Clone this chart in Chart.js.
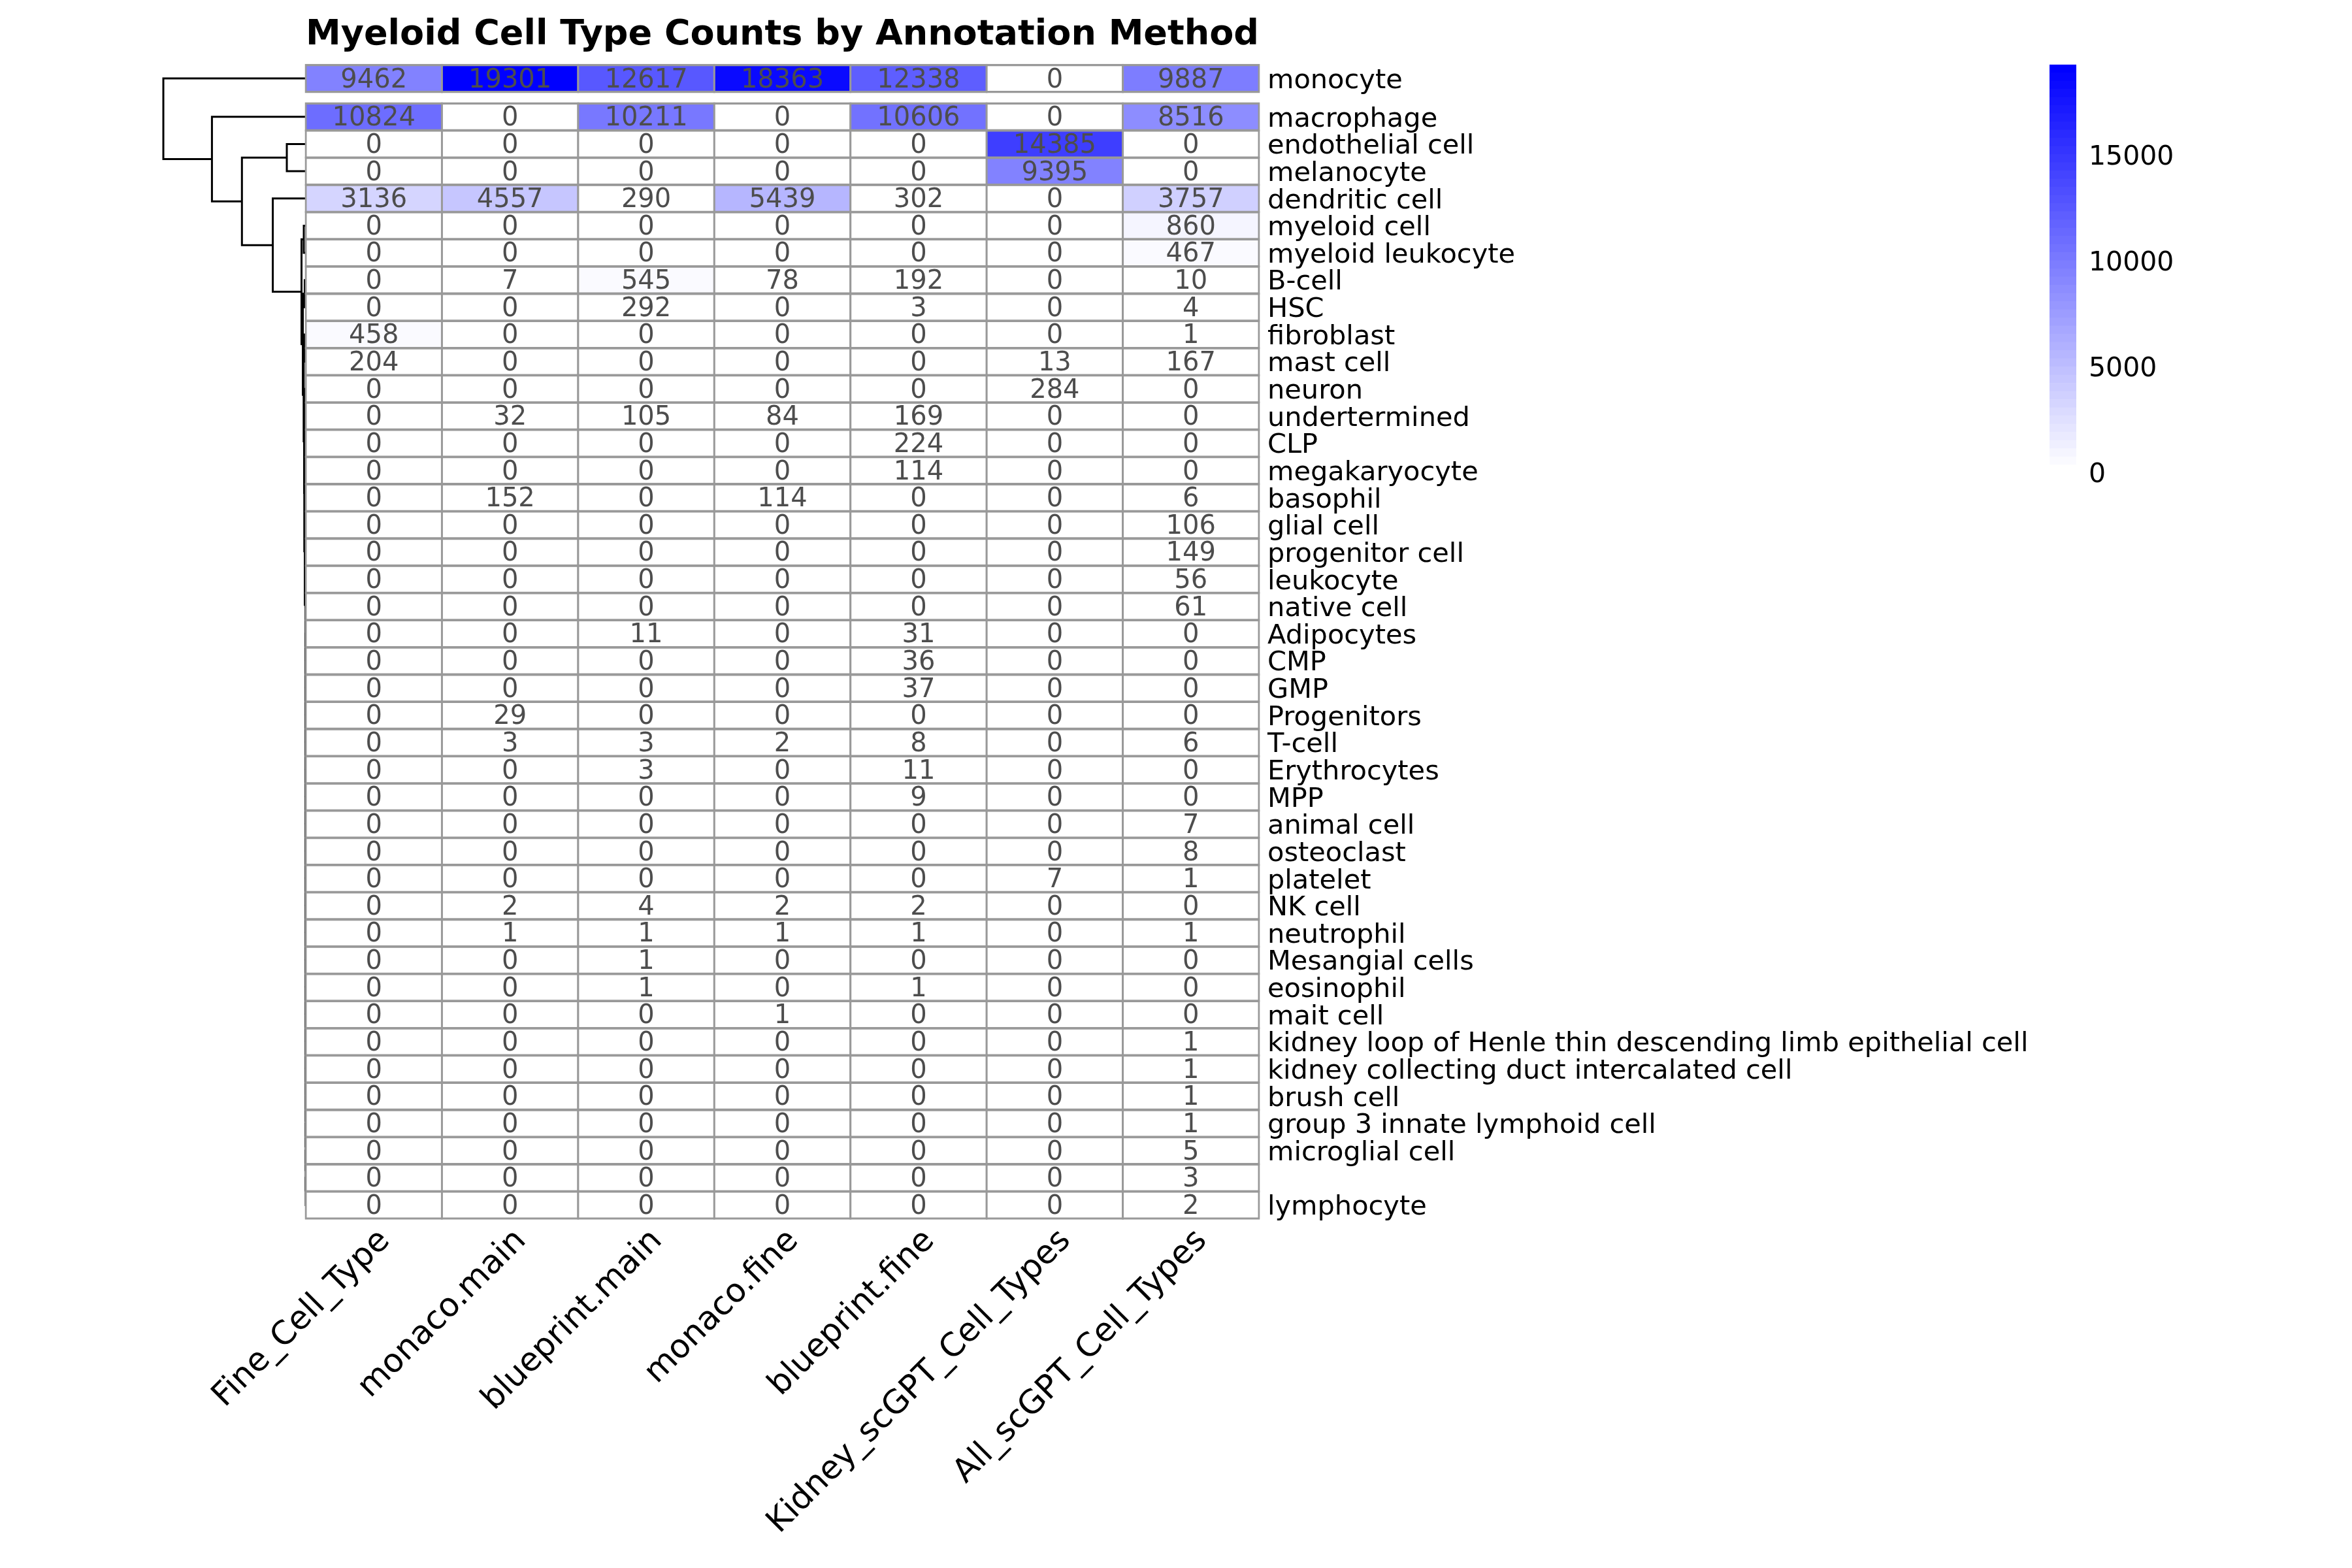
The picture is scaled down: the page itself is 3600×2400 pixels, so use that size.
<!DOCTYPE html>
<html>
<head>
<meta charset="utf-8">
<title>Myeloid Cell Type Counts by Annotation Method</title>
<script src="https://cdn.jsdelivr.net/npm/chart.js@4"></script>
<style>
  body { margin: 0; background: #fff; }
  canvas { position: absolute; left: 0; top: 0; }
</style>
</head>
<body>
<canvas id="tree" width="3600" height="2400"></canvas>
<canvas id="heat" width="3600" height="2400"></canvas>
<canvas id="legendBar" width="3600" height="2400"></canvas>
<script>
const methods = ['Fine_Cell_Type', 'monaco.main', 'blueprint.main', 'monaco.fine', 'blueprint.fine', 'Kidney_scGPT_Cell_Types', 'All_scGPT_Cell_Types'];

const rowLabels = ['monocyte', 'macrophage', 'endothelial cell', 'melanocyte', 'dendritic cell', 'myeloid cell', 'myeloid leukocyte',
  'B-cell', 'HSC', 'fibroblast', 'mast cell', 'neuron', 'undertermined', 'CLP', 'megakaryocyte', 'basophil', 'glial cell',
  'progenitor cell', 'leukocyte', 'native cell', 'Adipocytes', 'CMP', 'GMP', 'Progenitors', 'T-cell', 'Erythrocytes', 'MPP',
  'animal cell', 'osteoclast', 'platelet', 'NK cell', 'neutrophil', 'Mesangial cells', 'eosinophil', 'mait cell',
  'kidney loop of Henle thin descending limb epithelial cell', 'kidney collecting duct intercalated cell', 'brush cell',
  'group 3 innate lymphoid cell', 'microglial cell', '', 'lymphocyte'];

// counts per annotation method, same order as rowLabels
const fineCellType = [9462, 10824, 0, 0, 3136, 0, 0, 0, 0, 458, 204, 0, 0, 0, 0, 0, 0, 0, 0, 0, 0, 0, 0, 0, 0, 0, 0, 0, 0, 0, 0, 0, 0, 0, 0, 0, 0, 0, 0, 0, 0, 0];
const monacoMain = [19301, 0, 0, 0, 4557, 0, 0, 7, 0, 0, 0, 0, 32, 0, 0, 152, 0, 0, 0, 0, 0, 0, 0, 29, 3, 0, 0, 0, 0, 0, 2, 1, 0, 0, 0, 0, 0, 0, 0, 0, 0, 0];
const blueprintMain = [12617, 10211, 0, 0, 290, 0, 0, 545, 292, 0, 0, 0, 105, 0, 0, 0, 0, 0, 0, 0, 11, 0, 0, 0, 3, 3, 0, 0, 0, 0, 4, 1, 1, 1, 0, 0, 0, 0, 0, 0, 0, 0];
const monacoFine = [18363, 0, 0, 0, 5439, 0, 0, 78, 0, 0, 0, 0, 84, 0, 0, 114, 0, 0, 0, 0, 0, 0, 0, 0, 2, 0, 0, 0, 0, 0, 2, 1, 0, 0, 1, 0, 0, 0, 0, 0, 0, 0];
const blueprintFine = [12338, 10606, 0, 0, 302, 0, 0, 192, 3, 0, 0, 0, 169, 224, 114, 0, 0, 0, 0, 0, 31, 36, 37, 0, 8, 11, 9, 0, 0, 0, 2, 1, 0, 1, 0, 0, 0, 0, 0, 0, 0, 0];
const kidneyScgpt = [0, 0, 14385, 9395, 0, 0, 0, 0, 0, 0, 13, 284, 0, 0, 0, 0, 0, 0, 0, 0, 0, 0, 0, 0, 0, 0, 0, 0, 0, 7, 0, 0, 0, 0, 0, 0, 0, 0, 0, 0, 0, 0];
const allScgpt = [9887, 8516, 0, 0, 3757, 860, 467, 10, 4, 1, 167, 0, 0, 0, 0, 6, 106, 149, 56, 61, 0, 0, 0, 0, 6, 0, 0, 7, 8, 1, 0, 1, 0, 0, 0, 1, 1, 1, 1, 5, 3, 2];
const columns = [fineCellType, monacoMain, blueprintMain, monacoFine, blueprintFine, kidneyScgpt, allScgpt];

// dendrogram, hclust style: negative = row number, positive = earlier merge number
const mergeLeft = [-3, -6, -8, -10, -14, -13, -19, -18, -17, -41, -40, -39, -38, -37, -36, -35, -34, -33, -32, -31, -30, -29, -28, -27, -26, -25, -24, -23, -22, -21, 9, -16, 6, -12, 4, 3, 2, -5, 1, -2, -1];
const mergeRight = [-4, -7, -9, -11, -15, 5, -20, 7, 8, -42, 10, 11, 12, 13, 14, 15, 16, 17, 18, 19, 20, 21, 22, 23, 24, 25, 26, 27, 28, 29, 30, 31, 32, 33, 34, 35, 36, 37, 38, 39, 40];
const mergeHeight = [29, 3, 1.6, 2.5, 1, 1.5, 0.1, 0.2, 0.3, 0.02, 0.03, 0.04, 0.05, 0.06, 0.07, 0.08, 0.09, 0.1, 0.11, 0.12, 0.13, 0.14, 0.15, 0.16, 0.17, 0.18, 0.2, 0.22, 0.24, 0.26, 0.4, 1.5, 2.2, 2.5, 3.2, 4.5, 6.5, 50.5, 97.7, 143.6, 218];

const legendTicks = [0, 5000, 10000, 15000];
const maxCount = 19301;
const colourSteps = 50;

const FONT = "'DejaVu Sans'";
const rowGap = 0.41; // space left under the first row
const yMin = -1 - rowGap;
const yMax = rowLabels.length - 1;

function rowTop(i) { return i === 0 ? yMin : i - 1; }
function rowMiddle(i) { return rowTop(i) + 0.5; }

function stepColour(i) {
  const c = Math.round(255 * (1 - i / (colourSteps - 1)));
  return `rgb(${c},${c},255)`;
}
function countColour(v) {
  return stepColour(Math.min(colourSteps - 1, Math.floor(v / (maxCount / colourSteps))));
}

const commonOptions = { responsive: false, animation: false, devicePixelRatio: 1, plugins: { legend: { display: false }, tooltip: { enabled: false } } };

// numbers inside the cells
const cellText = {
  id: 'cellText',
  afterDatasetsDraw(chart) {
    const ctx = chart.ctx;
    ctx.save();
    ctx.font = '40px ' + FONT;
    ctx.fillStyle = '#4d4d4d';
    ctx.textAlign = 'center';
    ctx.textBaseline = 'middle';
    chart.data.datasets.forEach((ds, r) => {
      chart.getDatasetMeta(r).data.forEach((bar, c) => {
        const p = bar.getCenterPoint();
        ctx.fillText(String(columns[c][r]), p.x, p.y + 3);
      });
    });
    ctx.restore();
  }
};

new Chart(document.getElementById('heat'), {
  type: 'bar',
  plugins: [cellText],
  data: {
    labels: methods,
    datasets: rowLabels.map((name, r) => ({
      label: name || 'row ' + r,
      data: columns.map(() => [rowTop(r), rowTop(r) + 1]),
      backgroundColor: columns.map(col => countColour(col[r])),
      borderColor: '#999999',
      borderWidth: { top: 3.4, bottom: 3.4, left: 3, right: 3 },
      inflateAmount: 1.5,
      borderSkipped: false,
      clip: 6,
      categoryPercentage: 1,
      barPercentage: 1,
      grouped: false
    }))
  },
  options: {
    ...commonOptions,
    layout: { padding: { left: 468 } },
    plugins: {
      ...commonOptions.plugins,
      title: {
        display: true,
        text: 'Myeloid Cell Type Counts by Annotation Method',
        align: 'start',
        color: '#000',
        font: { family: FONT, size: 54, weight: 'bold' },
        padding: { top: 22, bottom: 12.5 }
      }
    },
    scales: {
      x: {
        grid: { display: false, drawTicks: false },
        border: { display: false },
        afterFit(s) { s.height = 534.7; },
        ticks: { color: '#000', font: { family: FONT, size: 50 }, minRotation: 45, maxRotation: 45, autoSkip: false, padding: 5, labelOffset: 17 }
      },
      y: {
        position: 'right',
        reverse: true,
        min: yMin,
        max: yMax,
        grid: { display: false, drawTicks: false },
        border: { display: false },
        afterFit(s) { s.width = 1673; },
        afterBuildTicks(s) { s.ticks = rowLabels.map((_, i) => ({ value: rowMiddle(i) })); },
        ticks: { color: '#000', font: { family: FONT, size: 41.5 }, autoSkip: false, padding: 13, labelOffset: 4, callback: (v, i) => rowLabels[i] }
      }
    }
  }
});

// node positions of the dendrogram come from the merge table
const nodeY = [];
function childPos(id) {
  return id < 0 ? { h: 0, y: rowMiddle(-id - 1) } : { h: mergeHeight[id - 1], y: nodeY[id - 1] };
}
const treeSets = mergeHeight.map((h, m) => {
  const a = childPos(mergeLeft[m]);
  const b = childPos(mergeRight[m]);
  nodeY[m] = (a.y + b.y) / 2;
  return {
    data: [{ x: a.h, y: a.y }, { x: h, y: a.y }, { x: h, y: b.y }, { x: b.h, y: b.y }],
    borderColor: '#000',
    borderWidth: 3,
    pointRadius: 0,
    showLine: true,
    clip: false
  };
});

new Chart(document.getElementById('tree'), {
  type: 'scatter',
  data: { datasets: treeSets },
  options: {
    ...commonOptions,
    layout: { padding: { left: 250, right: 3132, top: 99.3, bottom: 534.7 } },
    scales: {
      x: { display: false, type: 'linear', reverse: true, min: 0, max: 218 },
      y: { display: false, type: 'linear', reverse: true, min: yMin, max: yMax }
    }
  }
});

// colour key, one white-to-blue step per bar
const stepSize = maxCount / colourSteps;
const legendSteps = Array.from({ length: colourSteps }, (_, i) => i);

new Chart(document.getElementById('legendBar'), {
  type: 'bar',
  data: {
    labels: ['count'],
    datasets: legendSteps.map(i => ({
      data: [[i * stepSize, (i + 1) * stepSize]],
      backgroundColor: stepColour(i),
      borderWidth: 0,
      categoryPercentage: 1,
      barPercentage: 1,
      grouped: false
    }))
  },
  options: {
    ...commonOptions,
    layout: { padding: { left: 3137, top: 98.8, bottom: 1676 } },
    scales: {
      x: { display: false },
      y: {
        position: 'right',
        min: 0,
        max: maxCount,
        grid: { display: false, drawTicks: false },
        border: { display: false },
        afterFit(s) { s.width = 422; },
        afterBuildTicks(s) { s.ticks = legendTicks.map(v => ({ value: v })); },
        ticks: { color: '#000', font: { family: FONT, size: 41 }, padding: 19, labelOffset: 3, callback: v => String(v) }
      }
    }
  }
});
</script>
</body>
</html>
